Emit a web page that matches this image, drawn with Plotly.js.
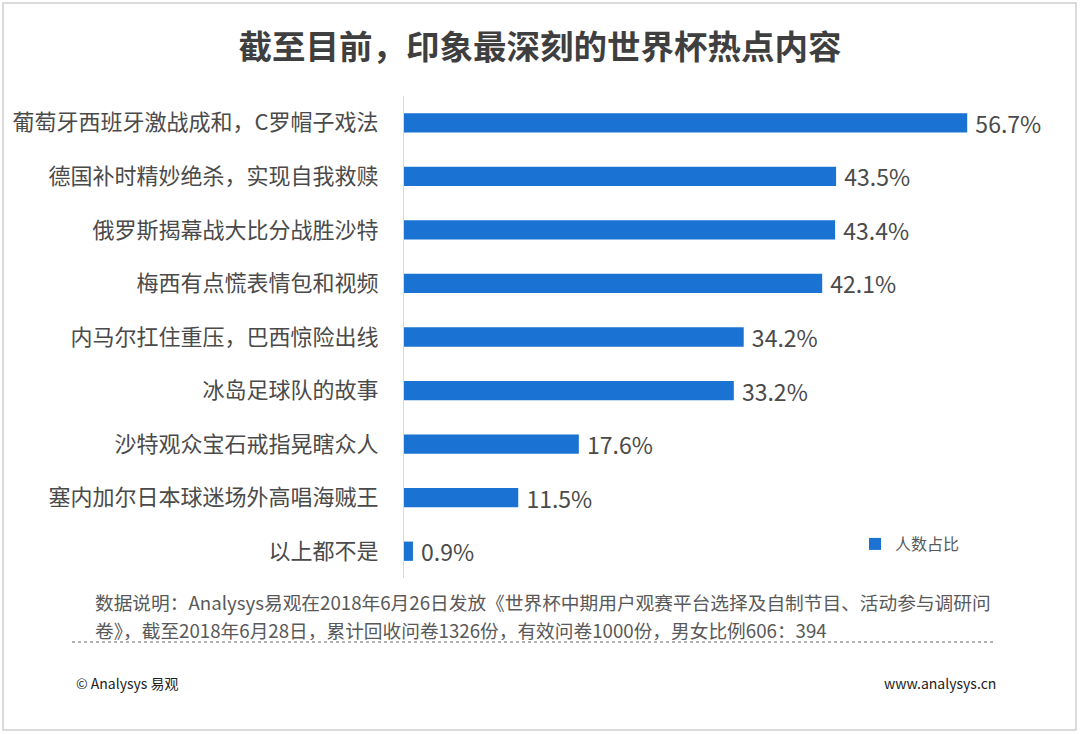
<!DOCTYPE html>
<html>
<head>
<meta charset="utf-8">
<script src="https://cdn.plot.ly/plotly-3.0.1.min.js"></script>
<style>
html,body{margin:0;padding:0;background:#fff;}
#chart{width:1080px;height:734px;}
</style>
</head>
<body>
<div id="chart"></div>
<script>
const categories = [
  "葡萄牙西班牙激战成和，C罗帽子戏法",
  "德国补时精妙绝杀，实现自我救赎",
  "俄罗斯揭幕战大比分战胜沙特",
  "梅西有点慌表情包和视频",
  "内马尔扛住重压，巴西惊险出线",
  "冰岛足球队的故事",
  "沙特观众宝石戒指晃瞎众人",
  "塞内加尔日本球迷场外高唱海贼王",
  "以上都不是"
];
const values = [56.7, 43.5, 43.4, 42.1, 34.2, 33.2, 17.6, 11.5, 0.9];
const seriesName = "人数占比";
const titleText = "截至目前，印象最深刻的世界杯热点内容";
const noteLine1 = "数据说明：Analysys易观在2018年6月26日发放《世界杯中期用户观赛平台选择及自制节目、活动参与调研问";
const noteLine2 = "卷》，截至2018年6月28日，累计回收问卷1326份，有效问卷1000份，男女比例606：394";
const copyrightText = "© Analysys 易观";
const siteText = "www.analysys.cn";

const W = 1080, H = 734;
const M = {l: 404, r: 80, t: 96, b: 156};
const pw = W - M.l - M.r, ph = H - M.t - M.b;
const px = v => (v - M.l) / pw;
const py = v => (H - M.b - v) / ph;

const FONT = '"Noto Sans CJK SC", "Noto Sans", sans-serif';

const trace = {
  type: 'bar',
  orientation: 'h',
  y: categories,
  x: values,
  name: seriesName,
  marker: {color: '#1a73d2'},
  text: values.map(v => '\u00a0' + v.toFixed(1) + '%'),
  textposition: 'outside',
  constraintext: 'none',
  textfont: {family: FONT, size: 23, color: '#4a4a4a'},
  cliponaxis: false,
  hoverinfo: 'skip'
};

const layout = {
  width: W, height: H,
  margin: M,
  paper_bgcolor: '#ffffff',
  plot_bgcolor: '#ffffff',
  font: {family: FONT, color: '#404040'},
  title: {
    text: '<b>' + titleText + '</b>',
    font: {family: FONT, size: 33.5, color: '#3f3f3f'},
    x: 0.5, xref: 'container', xanchor: 'center',
    y: 1 - 47 / H, yref: 'container', yanchor: 'middle'
  },
  bargap: 0.64,
  xaxis: {
    range: [0, 60],
    visible: false,
    fixedrange: true
  },
  yaxis: {
    autorange: 'reversed',
    showline: true,
    linecolor: '#d9d9d9',
    linewidth: 1,
    showgrid: false,
    zeroline: false,
    ticks: '',
    ticklabelstandoff: 20,
    tickfont: {family: FONT, size: 22, color: '#4a4a4a'}
  },
  showlegend: true,
  legend: {
    x: px(855), y: py(544), xanchor: 'left', yanchor: 'middle',
    bgcolor: 'rgba(0,0,0,0)',
    font: {family: FONT, size: 16, color: '#595959'},
    itemwidth: 30
  },
  shapes: [
    {type: 'rect', xref: 'paper', yref: 'paper',
     x0: px(3), x1: px(1076), y0: py(730), y1: py(3),
     line: {color: '#cfcfcf', width: 1.5}, fillcolor: 'rgba(0,0,0,0)', layer: 'below'},
    {type: 'line', xref: 'paper', yref: 'paper',
     x0: px(72), x1: px(995), y0: py(642), y1: py(642),
     line: {color: '#9a9a9a', width: 1.5, dash: 'dot'}}
  ],
  annotations: [
    {text: noteLine1, xref: 'paper', yref: 'paper', x: px(93), y: py(601),
     xanchor: 'left', yanchor: 'middle', showarrow: false,
     font: {family: FONT, size: 18.7, color: '#595959'}},
    {text: noteLine2, xref: 'paper', yref: 'paper', x: px(93), y: py(629),
     xanchor: 'left', yanchor: 'middle', showarrow: false,
     font: {family: FONT, size: 18.7, color: '#595959'}},
    {text: copyrightText, xref: 'paper', yref: 'paper', x: px(74), y: py(683),
     xanchor: 'left', yanchor: 'middle', showarrow: false,
     font: {family: FONT, size: 14, color: '#222222'}},
    {text: siteText, xref: 'paper', yref: 'paper', x: px(998), y: py(683),
     xanchor: 'right', yanchor: 'middle', showarrow: false,
     font: {family: FONT, size: 14, color: '#222222'}}
  ]
};

Plotly.newPlot('chart', [trace], layout, {displayModeBar: false, staticPlot: true});
</script>
</body>
</html>
